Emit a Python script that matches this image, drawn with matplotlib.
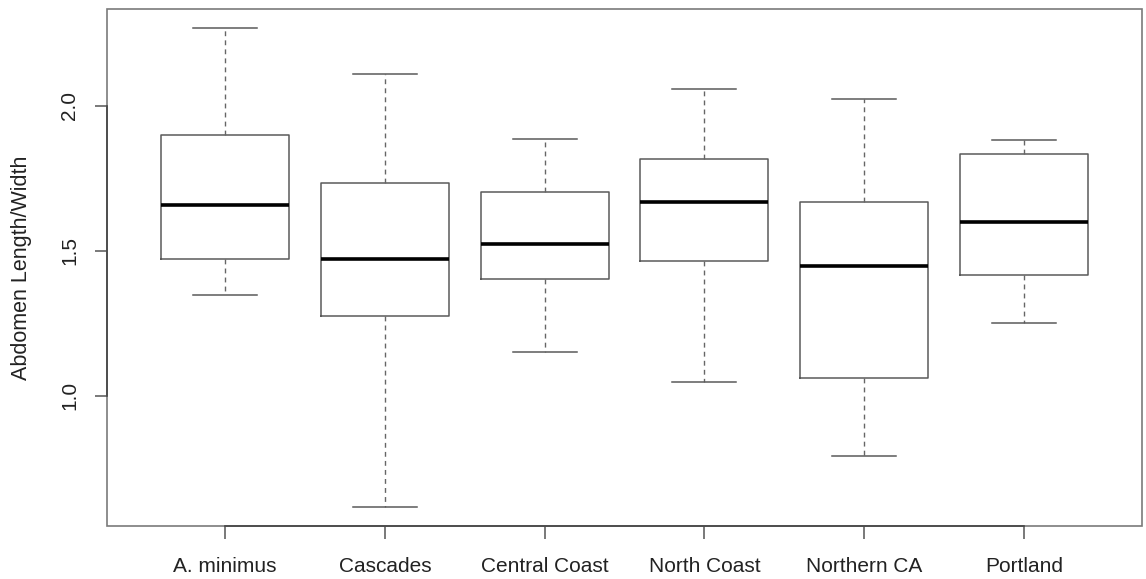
import matplotlib
matplotlib.use("Agg")
import matplotlib.pyplot as plt
from matplotlib.patches import Rectangle

plt.rcParams['font.family'] = ['Liberation Sans', 'DejaVu Sans']

# Five-number summaries per population
groups = ["A. minimus", "Cascades", "Central Coast", "North Coast", "Northern CA", "Portland"]
whisker_low = [1.347, 0.616, 1.151, 1.047, 0.791, 1.251]
q1 = [1.472, 1.273, 1.402, 1.466, 1.059, 1.415]
median = [1.659, 1.471, 1.524, 1.669, 1.448, 1.600]
q3 = [1.900, 1.733, 1.704, 1.816, 1.669, 1.834]
whisker_high = [2.268, 2.110, 1.887, 2.059, 2.024, 1.883]
y_ticks = [1.0, 1.5, 2.0]
y_label = "Abdomen Length/Width"

stats = [
    dict(label=g, whislo=lo, q1=a, med=m, q3=b, whishi=hi, fliers=[])
    for g, lo, a, m, b, hi in zip(groups, whisker_low, q1, median, q3, whisker_high)
]

fig = plt.figure(figsize=(11.46, 5.79), dpi=100)
ax = fig.add_axes([107 / 1146, 53 / 579, 1035 / 1146, 517 / 579])

gray = "#5a5a5a"
positions = list(range(1, len(groups) + 1))
ax.bxp(
    stats,
    positions=positions,
    widths=0.8,
    showfliers=False,
    capwidths=0.4,
    boxprops=dict(color=gray, linewidth=1.1),
    whiskerprops=dict(color="#666666", linewidth=1.0, linestyle=(0, (3.5, 3))),
    capprops=dict(color=gray, linewidth=1.1),
    medianprops=dict(color="black", linewidth=2.6, solid_capstyle="butt"),
)

# R-style extended limits
ymin_data, ymax_data = min(whisker_low), max(whisker_high)
pad = 0.04 * (ymax_data - ymin_data)
ax.set_ylim(ymin_data - pad, ymax_data + pad)
ax.set_xlim(0.5 - 0.24, len(groups) + 0.5 + 0.24)

# Light frame, darker axis lines spanning the tick range
for s in ax.spines.values():
    s.set_visible(False)
ax.add_patch(Rectangle((0, 0), 1, 1, transform=ax.transAxes, fill=False,
                       edgecolor="#7a7a7a", linewidth=1.2, clip_on=False, zorder=5))
ax.spines['left'].set_visible(True)
ax.spines['bottom'].set_visible(True)
ax.spines['left'].set_bounds(y_ticks[0], y_ticks[-1])
ax.spines['bottom'].set_bounds(positions[0], positions[-1])
for side in ('left', 'bottom'):
    ax.spines[side].set_color("#444444")
    ax.spines[side].set_linewidth(1.2)
    ax.spines[side].set_zorder(6)

ax.set_yticks(y_ticks)
ax.set_yticklabels([f"{t:.1f}" for t in y_ticks], rotation=90, va="center")
ax.set_xticks(positions)
ax.set_xticklabels(groups)
ax.tick_params(axis="both", length=9, width=1.1, color="#555555",
               labelsize=15, labelcolor="#222222")
ax.tick_params(axis="x", pad=13)
ax.tick_params(axis="y", pad=11)
ax.set_ylabel(y_label, fontsize=15.5, color="#222222", labelpad=20)

fig.savefig("out.png", dpi=100, facecolor="white")
